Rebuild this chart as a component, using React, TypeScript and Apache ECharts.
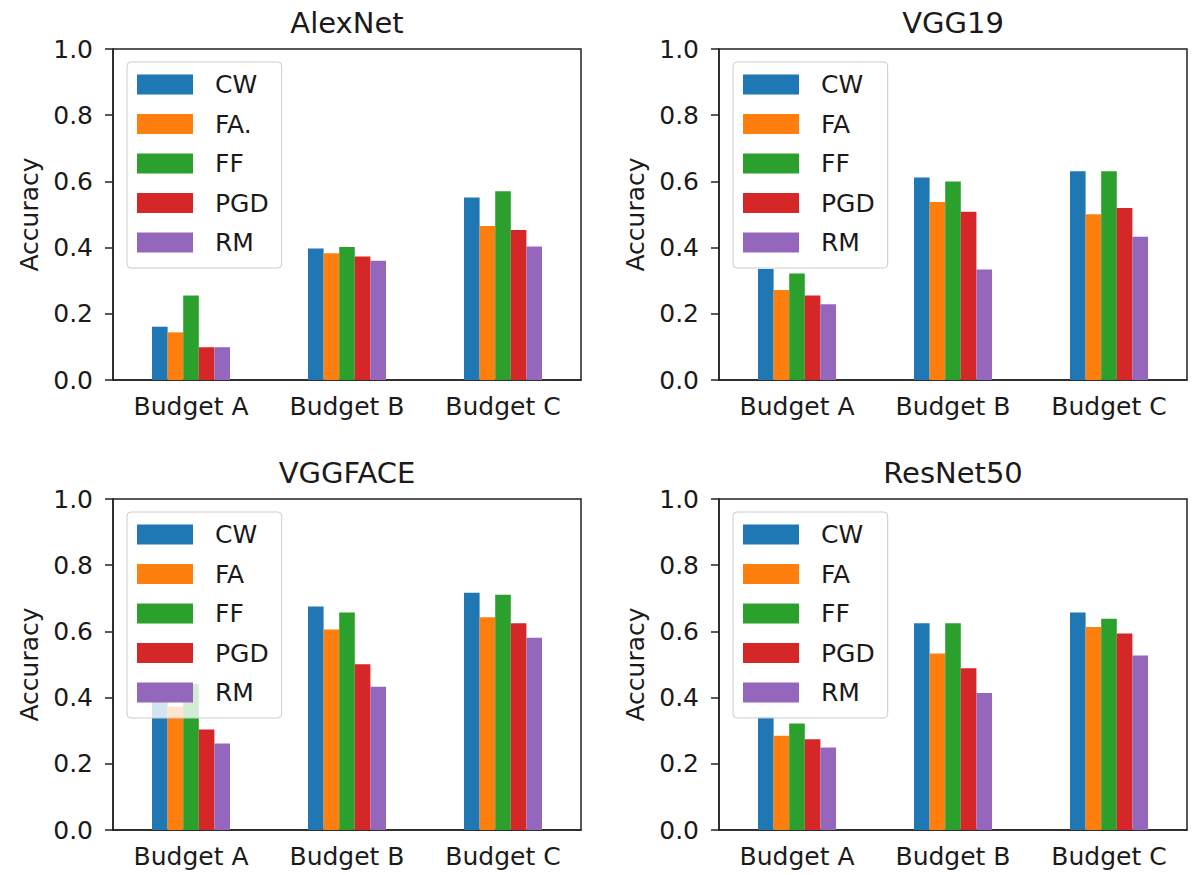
import React, { useEffect, useRef } from "react";
import * as echarts from "echarts";

const categories = ["Budget A", "Budget B", "Budget C"];
const titles = ["AlexNet", "VGG19", "VGGFACE", "ResNet50"];
const methodNames = ["CW", "FA", "FF", "PGD", "RM"];
const alexNetNames = ["CW", "FA.", "FF", "PGD", "RM"];
const colors = ["#1f77b4", "#ff7f0e", "#2ca02c", "#d62728", "#9467bd"];
const yTicks = [0, 0.2, 0.4, 0.6, 0.8, 1.0];

// AlexNet
const alexCW = [0.161, 0.397, 0.551];
const alexFA = [0.144, 0.383, 0.465];
const alexFF = [0.255, 0.402, 0.57];
const alexPGD = [0.099, 0.373, 0.453];
const alexRM = [0.099, 0.36, 0.403];
// VGG19
const vgg19CW = [0.335, 0.612, 0.631];
const vgg19FA = [0.272, 0.538, 0.501];
const vgg19FF = [0.322, 0.6, 0.631];
const vgg19PGD = [0.255, 0.508, 0.52];
const vgg19RM = [0.229, 0.334, 0.433];
// VGGFACE
const faceCW = [0.387, 0.675, 0.717];
const faceFA = [0.372, 0.606, 0.643];
const faceFF = [0.441, 0.657, 0.711];
const facePGD = [0.304, 0.501, 0.625];
const faceRM = [0.261, 0.433, 0.581];
// ResNet50
const resCW = [0.342, 0.625, 0.657];
const resFA = [0.285, 0.533, 0.613];
const resFF = [0.322, 0.625, 0.638];
const resPGD = [0.274, 0.489, 0.594];
const resRM = [0.249, 0.414, 0.527];

const panelData = [
  [alexCW, alexFA, alexFF, alexPGD, alexRM],
  [vgg19CW, vgg19FA, vgg19FF, vgg19PGD, vgg19RM],
  [faceCW, faceFA, faceFF, facePGD, faceRM],
  [resCW, resFA, resFF, resPGD, resRM],
];
const panelNames = [alexNetNames, methodNames, methodNames, methodNames];

const FONT = "DejaVu Sans";
const TEXT = "#1a1a1a";

export default function App() {
  const ref = useRef<HTMLDivElement>(null);
  useEffect(() => {
    if (!ref.current) return;
    const chart = echarts.init(ref.current, undefined, { renderer: "svg" });

    const lefts = [113, 719, 113, 719];
    const tops = [49, 49, 499, 499];
    const W = 468;
    const H = 331;

    const grid = lefts.map((l, i) => ({
      left: l,
      top: tops[i],
      width: W,
      height: H,
      show: true,
      borderColor: "#222",
      borderWidth: 1.5,
      backgroundColor: "transparent",
    }));

    const xAxis = lefts.map((_, i) => ({
      type: "category",
      gridIndex: i,
      data: categories,
      axisLine: { lineStyle: { color: "#222", width: 1.5 } },
      axisTick: { alignWithLabel: true, length: 8, lineStyle: { color: "#222", width: 1.5 } },
      axisLabel: { fontSize: 25, fontFamily: FONT, color: TEXT, margin: 14 },
    }));

    const yAxis = lefts.map((_, i) => ({
      type: "value",
      gridIndex: i,
      min: 0,
      max: 1,
      interval: 0.2,
      name: "Accuracy",
      nameLocation: "middle",
      nameRotate: 90,
      nameGap: 71,
      nameTextStyle: { fontSize: 25, fontFamily: FONT, color: TEXT },
      axisLine: { show: true, lineStyle: { color: "#222", width: 1.5 } },
      axisTick: { show: true, length: 8, lineStyle: { color: "#222", width: 1.5 } },
      axisLabel: {
        fontSize: 25,
        fontFamily: FONT,
        color: TEXT,
        margin: 20,
        formatter: (v: number) => (yTicks.includes(Math.round(v * 10) / 10) ? v.toFixed(1) : ""),
      },
      splitLine: { show: false },
    }));

    const series: any[] = [];
    panelData.forEach((arrs, p) => {
      arrs.forEach((vals, k) => {
        series.push({
          type: "bar",
          name: panelNames[p][k],
          xAxisIndex: p,
          yAxisIndex: p,
          data: vals,
          barWidth: 15.6,
          barGap: "0%",
          itemStyle: { color: colors[k] },
          emphasis: { disabled: true },
        });
      });
    });

    const legend = lefts.map((l, i) => ({
      orient: "vertical",
      left: l + 14,
      top: tops[i] + 13,
      data: panelNames[i],
      icon: "rect",
      itemWidth: 56,
      itemHeight: 20,
      itemGap: 14.5,
      padding: [10, 13, 13, 10],
      backgroundColor: "rgba(255,255,255,0.8)",
      borderColor: "#cccccc",
      borderWidth: 1,
      borderRadius: 4,
      selectedMode: false,
      textStyle: {
        fontSize: 25,
        fontFamily: FONT,
        color: TEXT,
        lineHeight: 20,
        padding: [0, 0, 0, 17],
      },
    }));

    const graphic = titles.map((t, i) => ({
      type: "text",
      x: lefts[i] + W / 2,
      y: tops[i] - 26,
      style: {
        text: t,
        fontSize: 29,
        fontFamily: FONT,
        fill: TEXT,
        align: "center",
        verticalAlign: "middle",
      },
    }));

    chart.setOption({
      animation: false,
      color: colors,
      grid,
      xAxis,
      yAxis,
      series,
      legend,
      graphic,
    });
    return () => chart.dispose();
  }, []);

  return (
    <div
      ref={ref}
      style={{ position: "absolute", left: 0, top: 0, width: 1201, height: 875, background: "#fff" }}
    />
  );
}
